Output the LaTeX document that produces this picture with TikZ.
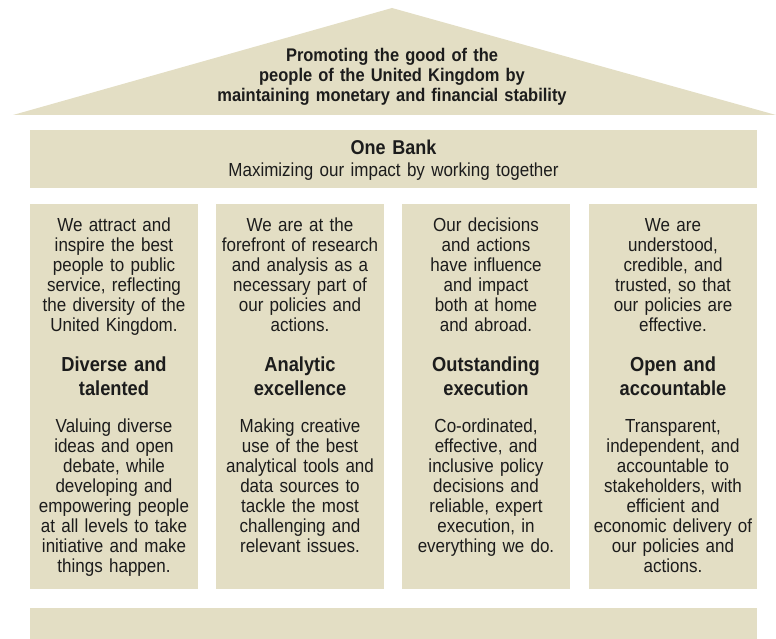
\documentclass[tikz,border=0pt]{standalone}
\usepackage{fontspec}
\setmainfont{Liberation Sans}[FakeStretch=0.9]
\usetikzlibrary{positioning}

\definecolor{stone}{RGB}{227,222,196}
\definecolor{ink}{RGB}{28,28,28}

\begin{document}
\begin{tikzpicture}[x=1pt, y=-1pt,
		slab/.style={fill=stone, draw=none, inner sep=0pt, anchor=north west},
		pillar/.style={slab, minimum width=168pt, minimum height=385pt},
		blurb/.style={text=ink, anchor=base, align=center, text width=210pt, inner sep=0pt,
			font=\fontsize{18.9}{20}\selectfont},
		title/.style={blurb, font=\fontsize{20.3}{23.3}\selectfont\bfseries}]
	\useasboundingbox (0, 0) rectangle (776, 639);

	% roof
	\coordinate (eaveL) at (13, 115);
	\coordinate (ridge) at (392, 8);
	\coordinate (eaveR) at (776, 115);
	\fill [stone] (eaveL) -- (ridge) -- (eaveR) -- cycle;
	\node [title, text width=450pt, font=\fontsize{18.3}{20}\selectfont\bfseries] (mission) at (392, 61.7)
		{Promoting the good of the\\ people of the United Kingdom by\\ maintaining monetary and financial stability};

	% beam
	\node [slab, minimum width=727pt, minimum height=58pt] (beam) at (30, 130) {};
	\node [title, font=\fontsize{20}{21.7}\selectfont\bfseries] (onebank) at (393.5, 155) {One Bank};
	\node [blurb, text width=450pt] (together) at (393.5, 176.7) {Maximizing our impact by working together};

	% pillars
	\node [pillar] (pillar1) at (30, 204) {};
	\node [pillar] (pillar2) at (216, 204) {};
	\node [pillar] (pillar3) at (402, 204) {};
	\node [pillar] (pillar4) at (589, 204) {};

	\node [blurb] (why1) at (114, 231.7)
		{We attract and\\ inspire the best\\ people to public\\ service, reflecting\\ the diversity of the\\ United Kingdom.};
	\node [title] (value1) at (114, 371.7) {Diverse and\\ talented};
	\node [blurb] (how1) at (114, 432)
		{Valuing diverse\\ ideas and open\\ debate, while\\ developing and\\ empowering people\\ at all levels to take\\ initiative and make\\ things happen.};

	\node [blurb] (why2) at (300, 231.7)
		{We are at the\\ forefront of research\\ and analysis as a\\ necessary part of\\ our policies and\\ actions.};
	\node [title] (value2) at (300, 371.7) {Analytic\\ excellence};
	\node [blurb] (how2) at (300, 432)
		{Making creative\\ use of the best\\ analytical tools and\\ data sources to\\ tackle the most\\ challenging and\\ relevant issues.};

	\node [blurb] (why3) at (486, 231.7)
		{Our decisions\\ and actions\\ have influence\\ and impact\\ both at home\\ and abroad.};
	\node [title] (value3) at (486, 371.7) {Outstanding\\ execution};
	\node [blurb] (how3) at (486, 432)
		{Co-ordinated,\\ effective, and\\ inclusive policy\\ decisions and\\ reliable, expert\\ execution, in\\ everything we do.};

	\node [blurb] (why4) at (673, 231.7)
		{We are\\ understood,\\ credible, and\\ trusted, so that\\ our policies are\\ effective.};
	\node [title] (value4) at (673, 371.7) {Open and\\ accountable};
	\node [blurb] (how4) at (673, 432)
		{Transparent,\\ independent, and\\ accountable to\\ stakeholders, with\\ efficient and\\ economic delivery of\\ our policies and\\ actions.};

	% foundation
	\node [slab, minimum width=727pt, minimum height=31pt] (footing) at (30, 608) {};
\end{tikzpicture}
\end{document}
